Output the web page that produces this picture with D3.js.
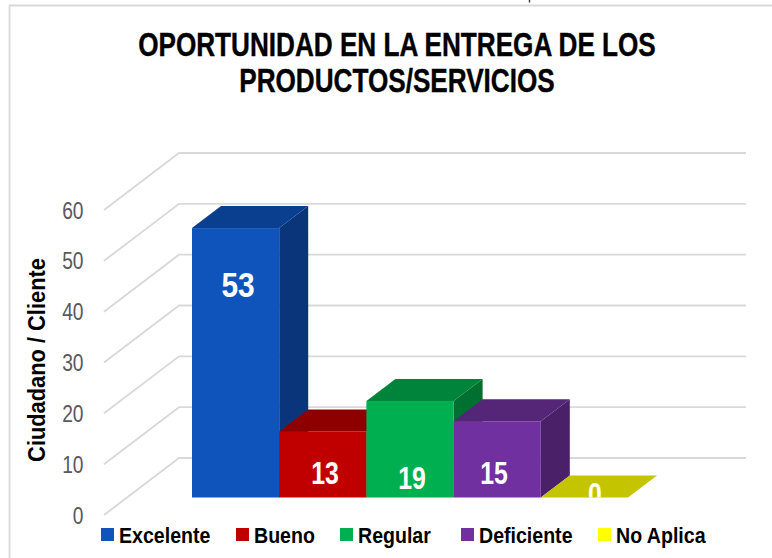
<!DOCTYPE html>
<html><head><meta charset="utf-8">
<script src="https://cdn.jsdelivr.net/npm/d3@7/dist/d3.min.js"></script>
<style>html,body{margin:0;padding:0;background:#fff}svg{display:block}text{font-family:"Liberation Sans",Arial,sans-serif}</style>
</head><body><svg id="c" width="772" height="558"></svg>
<script>
const categories=["Excelente","Bueno","Regular","Deficiente","No Aplica"];
const values=[53,13,19,15,0];
const frontColors=["#0E54BB","#C00000","#00B050","#7030A0","#FFFF00"];
const topColors=["#0A3F8F","#8E0000","#00843C","#552578","#C4C400"];
const sideColors=["#0A357A","#7A0000","#007030","#4A2068","#A8A800"];
const yTicks=[0,10,20,30,40,50,60];
const titleLines=["OPORTUNIDAD EN LA ENTREGA DE LOS","PRODUCTOS/SERVICIOS"];
const yAxisTitle="Ciudadano / Cliente";

const svg=d3.select("#c");
// frame and the stub of cropped ink at the top edge
svg.append("path").attr("d","M9.5,558V5.5H772").attr("fill","none").attr("stroke","#D9D9D9").attr("stroke-width",1.8);
svg.append("path").attr("d","M529.5,0V2.5").attr("stroke","#333").attr("stroke-width",1.4);

const y=d3.scaleLinear().domain([0,60]).range([515,210]);
const x=d3.scaleBand().domain(categories).range([192,628]);
const dx=29,dy=-22,barDrop=17.5;
const gridBackX=179,gridFrontX=104,gridEndX=746,gridDy=-57;

svg.append("g").selectAll("path").data(yTicks).join("path")
 .attr("d",t=>`M${gridFrontX},${y(t)}L${gridBackX},${y(t)+gridDy}L${gridEndX},${y(t)+gridDy}`)
 .attr("fill","none").attr("stroke","#D9D9D9").attr("stroke-width",1.9);

const axis=d3.axisLeft(y).tickValues(yTicks).tickSize(0).tickPadding(0);
const ag=svg.append("g").attr("transform","translate(83.5,0)").call(axis);
ag.select(".domain").remove();
ag.selectAll("text").attr("font-size",24).attr("fill","#595959").attr("dy","0.34em")
  .attr("transform","scale(0.8,1)")
  .style("font-family",'"Liberation Sans",Arial,sans-serif');

const base=y(0)-barDrop;
const h=v=>y(0)-y(v);
const bars=svg.append("g").selectAll("g").data(categories.map((c,i)=>({c,i,v:values[i]}))).join("g");
bars.append("path").attr("d",d=>{const r=x(d.c)+x.bandwidth(),t=base-h(d.v);return `M${r},${t}L${r+dx},${t+dy}L${r+dx},${base+dy}L${r},${base}Z`;})
 .attr("fill",d=>sideColors[d.i]);
bars.append("path").attr("d",d=>{const l=x(d.c),r=l+x.bandwidth(),t=base-h(d.v);return `M${l},${t}L${l+dx},${t+dy}L${r+dx},${t+dy}L${r},${t}Z`;})
 .attr("fill",d=>topColors[d.i]);
bars.filter(d=>d.v>0).append("rect").attr("x",d=>x(d.c)).attr("width",x.bandwidth()).attr("y",d=>base-h(d.v)).attr("height",d=>h(d.v))
 .attr("fill",d=>frontColors[d.i]);

const labelPos=[[238,296.5],[325,484],[412,489],[494,484],[595,505]];
svg.append("clipPath").attr("id","zero").append("rect").attr("x",0).attr("y",0).attr("width",772).attr("height",base);
svg.append("g").attr("clip-path","url(#zero)").selectAll("text").data(values).join("text")
 .attr("transform",(d,i)=>`translate(${labelPos[i][0]},${labelPos[i][1]}) scale(${i==0?0.83:0.8},1)`).attr("text-anchor","middle")
 .attr("font-size",(d,i)=>i==0?36:31).attr("font-weight",700).attr("fill","#fff").text(d=>d);

svg.selectAll("text.title").data(titleLines).join("text").attr("class","title")
 .attr("transform",(d,i)=>`translate(397,${56+i*36}) scale(0.78,1)`).attr("text-anchor","middle").attr("font-size",33.5).attr("font-weight",700).attr("fill","#000").attr("stroke","#000").attr("stroke-width",0.4).text(d=>d);

svg.append("text").attr("transform","translate(45,360) rotate(-90) scale(0.91,1)").attr("text-anchor","middle")
 .attr("font-size",24).attr("font-weight",700).attr("fill","#000").text(yAxisTitle);

const legendX=[101,236,340,461,598];
const lg=svg.append("g").selectAll("g").data(categories).join("g").attr("transform",(d,i)=>`translate(${legendX[i]},528)`);
lg.append("rect").attr("width",13).attr("height",13).attr("fill",(d,i)=>frontColors[i]);
lg.append("text").attr("transform","translate(18,15) scale(0.89,1)").attr("font-size",22).attr("font-weight",700).attr("fill","#000").text(d=>d);
</script></body></html>
